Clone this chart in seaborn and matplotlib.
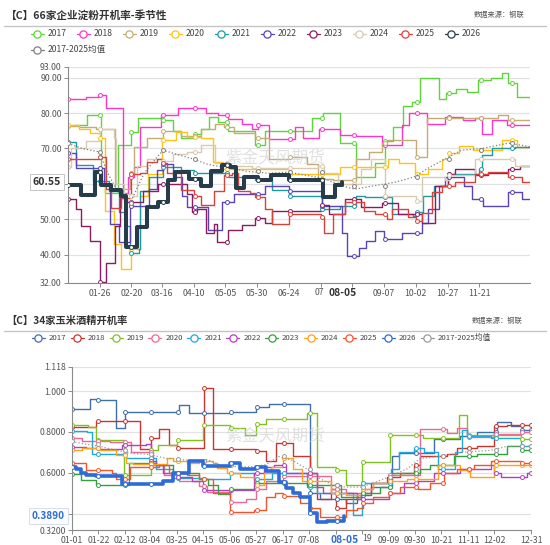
import numpy as np
import pandas as pd
import matplotlib
matplotlib.use("Agg")
import matplotlib.pyplot as plt
import seaborn as sns
from matplotlib.lines import Line2D

# ---------------- TOP CHART: 66家企业淀粉开机率 (day-of-year, value) ----------------
t17_d = [5, 16, 27, 30, 40, 51, 56, 74, 84, 90, 100, 106, 112, 119, 127, 148, 156, 175, 193, 202, 215, 228, 243, 251, 257, 265, 272, 278, 293, 299, 307, 315, 324, 334, 343, 348, 355, 365]
t17_v = [76.5, 79.5, 60, 57.5, 71, 74.7, 78.6, 78, 75, 73, 74, 75.5, 79, 77.5, 75, 71, 75, 74.8, 78.5, 80, 71.5, 62, 66, 72, 76, 82, 83, 89.8, 84, 85.7, 86.7, 86, 89.2, 89.8, 91.4, 88.5, 84.5, 84.5]
t18_d = [1, 15, 25, 31, 44, 48, 53, 58, 74, 88, 100, 110, 119, 127, 138, 146, 151, 159, 180, 186, 199, 215, 228, 248, 264, 270, 284, 298, 312, 322, 327, 335, 347, 365]
t18_v = [84, 84.5, 85.2, 81.5, 57.5, 62, 64.8, 76, 79.4, 81.5, 81.5, 80, 79.5, 78.3, 77, 75.5, 76.5, 72.7, 76, 73, 75.5, 73.8, 73.5, 71, 76.5, 80, 76.8, 78.8, 78, 78.5, 74, 78, 76.5, 76.5]
t19_d = [1, 10, 23, 38, 50, 53, 63, 76, 90, 106, 117, 124, 132, 148, 159, 175, 189, 198, 210, 228, 238, 248, 252, 275, 284, 310, 340, 348, 365]
t19_v = [76.2, 76, 75.5, 58.6, 63, 70.5, 73, 75, 73.5, 75.5, 77, 76, 74.3, 73, 67, 67.5, 65.5, 61.5, 61, 67, 69, 71.4, 72.5, 67.6, 78.6, 78.6, 79.5, 78, 78]
t20_d = [1, 10, 18, 26, 30, 37, 43, 51, 58, 64, 75, 86, 95, 106, 115, 123, 175, 215, 228, 240, 253, 262, 274, 285, 296, 301, 309, 320, 343, 355, 365]
t20_v = [76.5, 75.5, 74.5, 73, 52.4, 43, 35.9, 41.6, 56.7, 62.9, 72.4, 74.6, 73.3, 72.9, 66.2, 64.3, 62.9, 64.8, 64.8, 64.8, 67.1, 66, 62.9, 64.3, 67.1, 68.6, 70.8, 69.6, 72.4, 70.5, 70.5]
t21_d = [1, 7, 21, 33, 41, 47, 50, 57, 58, 65, 76, 90, 100, 127, 148, 162, 175, 185, 201, 215, 228, 235, 250, 256, 273, 275, 281, 289, 300, 325, 327, 335, 353, 365]
t21_v = [71.9, 65.2, 60.7, 58, 52, 48.1, 40.5, 41.5, 58, 62, 64.8, 64, 63, 62, 61, 58.4, 56.5, 56.5, 52.9, 53.8, 56.7, 56.2, 56.2, 51.4, 51, 52, 56.7, 59.5, 62.9, 64.3, 68.1, 70, 70.5, 70]
t22_d = [1, 7, 29, 34, 41, 50, 65, 71, 76, 84, 91, 95, 111, 122, 132, 156, 175, 201, 217, 221, 230, 236, 243, 250, 264, 280, 285, 293, 298, 313, 319, 328, 348, 359, 365]
t22_v = [68.6, 64.5, 60, 48.6, 43.5, 53.8, 58.5, 64, 65.7, 62, 56.7, 53.5, 47.1, 54.8, 57.1, 59.5, 58.1, 53.8, 46.2, 39.5, 41.9, 43.8, 46.7, 44.3, 46.2, 49, 53, 59.5, 61.9, 59.5, 55.7, 53.8, 57.8, 55.7, 55.7]
t23_d = [1, 7, 11, 18, 26, 31, 38, 42, 47, 60, 72, 95, 99, 103, 110, 116, 118, 127, 138, 148, 156, 162, 200, 207, 219, 232, 248, 261, 280, 290, 300, 306, 322, 332, 348, 357, 365]
t23_v = [55.7, 52.9, 48.1, 43.8, 32.4, 37.6, 48, 56, 55, 58, 60, 57, 52, 53, 46, 48.6, 43.5, 47, 48.5, 50.3, 49, 52.4, 54, 51.5, 55.7, 53.5, 54.5, 51.4, 49, 59.5, 62.9, 64.3, 62.4, 63, 64.3, 65, 65]
t24_d = [1, 3, 15, 26, 37, 39, 45, 50, 55, 63, 76, 84, 95, 106, 117, 127, 146, 198, 203, 214, 232, 240, 251, 275, 280, 298, 301, 322, 348, 353, 365]
t24_v = [64.8, 70, 72, 75.5, 73, 60, 57, 56.5, 65, 67, 66.5, 68.5, 69, 71, 66, 65, 64.5, 65, 63, 60, 64.3, 67.1, 56.7, 55.2, 62, 61, 62.5, 67.1, 67.1, 65, 65]
t25_d = [1, 26, 31, 35, 43, 51, 58, 63, 71, 75, 79, 90, 100, 106, 116, 124, 130, 135, 144, 148, 156, 162, 175, 200, 203, 210, 219, 234, 243, 252, 256, 269, 275, 280, 288, 296, 306, 322, 332, 348, 359, 365]
t25_v = [67.1, 67.5, 58.5, 53.3, 56, 62.9, 63, 66.2, 67, 66, 63, 58.4, 56.5, 54.1, 58, 62.5, 63, 58, 57.5, 56.2, 53, 48.8, 51.4, 50.5, 46.2, 51.4, 54.8, 52.4, 51.4, 50, 52.9, 50.5, 49.5, 51.9, 57.6, 59.5, 60.5, 62.9, 63.3, 61.9, 60.5, 60.5]
t26_d = [1, 11, 22, 27, 35, 43, 47, 55, 63, 72, 80, 85, 96, 106, 114, 122, 129, 133, 140, 151, 161, 175, 202, 211, 217]
t26_v = [59.7, 56.8, 63.4, 59.7, 58.3, 56.5, 42.2, 47.9, 53.5, 55, 61, 63.4, 61.4, 59.5, 63.5, 65.2, 64.8, 58.8, 62, 61, 62.5, 61, 56.4, 59.7, 60.55]
tavg_d = [1, 12, 26, 31, 39, 50, 55, 61, 71, 76, 90, 100, 111, 127, 143, 159, 175, 203, 216, 227, 243, 259, 274, 285, 298, 311, 327, 348, 365]
tavg_v = [71.4, 70, 69, 64, 58.5, 54.5, 58.5, 63, 67.5, 69.5, 68, 67, 65.5, 64.5, 63.5, 63, 63.3, 61.5, 59.5, 58.5, 59.5, 60.5, 62, 64.5, 67, 69.5, 70, 71.5, 70.5]

top_xticks = [26, 51, 75, 100, 125, 150, 175, 200, 225, 250, 275, 300, 325]
top_xlabels = ["01-26", "02-20", "03-16", "04-10", "05-05", "05-30", "06-24", "", "", "09-07", "10-02", "10-27", "11-21"]
top_yticks = [32, 40, 50, 60, 70, 80, 90, 93]
top_last = 60.55

# ---------------- BOTTOM CHART: 34家玉米酒精开机率 ----------------
b17_d = [1, 15, 21, 36, 43, 86, 94, 126, 147, 157, 190, 198, 218, 227, 238, 255, 260, 288, 309, 322, 338, 349, 358, 365]
b17_v = [0.91, 0.962, 0.955, 0.82, 0.90, 0.934, 0.893, 0.90, 0.923, 0.938, 0.5, 0.47, 0.45, 0.49, 0.53, 0.68, 0.697, 0.766, 0.78, 0.8, 0.848, 0.83, 0.811, 0.811]
b18_d = [1, 20, 55, 64, 70, 78, 84, 106, 113, 147, 155, 163, 176, 190, 195, 206, 210, 218, 230, 238, 251, 261, 272, 277, 298, 306, 322, 336, 346, 365]
b18_v = [0.823, 0.856, 0.716, 0.77, 0.816, 0.738, 0.72, 1.016, 0.718, 0.705, 0.656, 0.746, 0.68, 0.6, 0.47, 0.52, 0.43, 0.47, 0.5, 0.55, 0.58, 0.6, 0.64, 0.68, 0.69, 0.72, 0.73, 0.831, 0.836, 0.836]
b19_d = [1, 14, 20, 42, 64, 69, 84, 105, 126, 138, 147, 155, 187, 195, 210, 218, 231, 253, 279, 308, 314, 357, 365]
b19_v = [0.836, 0.825, 0.762, 0.59, 0.713, 0.738, 0.762, 0.833, 0.82, 0.787, 0.84, 0.861, 0.893, 0.63, 0.615, 0.541, 0.651, 0.787, 0.77, 0.885, 0.787, 0.766, 0.766]
b20_d = [1, 9, 31, 48, 65, 74, 86, 102, 108, 126, 139, 147, 155, 168, 206, 218, 232, 240, 252, 277, 298, 306, 314, 336, 357, 365]
b20_v = [0.77, 0.755, 0.75, 0.7, 0.64, 0.59, 0.56, 0.535, 0.508, 0.459, 0.47, 0.52, 0.56, 0.582, 0.52, 0.5, 0.52, 0.55, 0.59, 0.815, 0.795, 0.82, 0.775, 0.79, 0.8, 0.8]
b21_d = [1, 13, 17, 36, 44, 68, 81, 105, 126, 145, 160, 187, 195, 224, 231, 254, 260, 272, 280, 291, 305, 310, 314, 333, 357, 365]
b21_v = [0.803, 0.8, 0.693, 0.69, 0.672, 0.62, 0.577, 0.57, 0.6, 0.57, 0.6, 0.53, 0.5, 0.393, 0.55, 0.62, 0.7, 0.72, 0.7, 0.62, 0.7, 0.81, 0.78, 0.77, 0.73, 0.73]
b22_d = [1, 12, 23, 41, 60, 64, 68, 73, 84, 96, 105, 145, 153, 161, 171, 195, 200, 227, 252, 264, 275, 288, 309, 333, 336, 341, 362, 365]
b22_v = [0.725, 0.72, 0.715, 0.738, 0.74, 0.66, 0.64, 0.6, 0.58, 0.56, 0.516, 0.6, 0.63, 0.64, 0.6, 0.53, 0.5, 0.47, 0.5, 0.55, 0.56, 0.6, 0.62, 0.64, 0.6, 0.58, 0.6, 0.6]
b23_d = [1, 8, 20, 46, 63, 68, 81, 102, 109, 117, 126, 137, 147, 155, 187, 203, 214, 232, 245, 254, 277, 285, 304, 322, 346, 357, 365]
b23_v = [0.595, 0.566, 0.541, 0.647, 0.65, 0.64, 0.6, 0.57, 0.541, 0.497, 0.52, 0.52, 0.55, 0.552, 0.541, 0.54, 0.484, 0.5, 0.53, 0.6, 0.62, 0.64, 0.68, 0.69, 0.73, 0.713, 0.713]
b24_d = [1, 9, 23, 36, 44, 49, 76, 81, 92, 102, 113, 116, 124, 134, 146, 153, 159, 168, 176, 183, 206, 218, 232, 240, 252, 267, 291, 309, 317, 336, 365]
b24_v = [0.713, 0.72, 0.71, 0.689, 0.65, 0.645, 0.672, 0.66, 0.65, 0.66, 0.65, 0.623, 0.6, 0.58, 0.541, 0.6, 0.63, 0.672, 0.62, 0.562, 0.5, 0.49, 0.52, 0.55, 0.56, 0.57, 0.64, 0.615, 0.579, 0.64, 0.64]
b25_d = [1, 12, 33, 36, 47, 70, 78, 92, 102, 113, 126, 145, 155, 162, 168, 182, 190, 198, 218, 227, 232, 240, 252, 261, 275, 285, 296, 306, 320, 333, 357, 365]
b25_v = [0.647, 0.615, 0.6, 0.57, 0.63, 0.64, 0.6, 0.59, 0.57, 0.5, 0.41, 0.42, 0.48, 0.5, 0.487, 0.451, 0.43, 0.385, 0.42, 0.43, 0.45, 0.48, 0.5, 0.53, 0.52, 0.55, 0.6, 0.62, 0.64, 0.66, 0.65, 0.65]
b26_d = [1, 4, 8, 12, 20, 41, 60, 73, 81, 94, 105, 116, 126, 134, 147, 155, 165, 171, 176, 182, 190, 195, 203, 210, 217]
b26_v = [0.63, 0.62, 0.6, 0.59, 0.585, 0.545, 0.545, 0.56, 0.598, 0.66, 0.631, 0.635, 0.65, 0.62, 0.63, 0.61, 0.557, 0.525, 0.5, 0.48, 0.402, 0.361, 0.365, 0.365, 0.389]
bavg_d = [1, 12, 23, 36, 49, 62, 76, 86, 97, 108, 118, 129, 145, 155, 165, 176, 187, 198, 208, 218, 230, 240, 252, 267, 277, 293, 309, 333, 346, 365]
bavg_v = [0.754, 0.74, 0.73, 0.71, 0.695, 0.69, 0.67, 0.665, 0.66, 0.665, 0.64, 0.63, 0.63, 0.64, 0.68, 0.66, 0.62, 0.57, 0.54, 0.53, 0.53, 0.55, 0.58, 0.62, 0.67, 0.68, 0.7, 0.71, 0.73, 0.73]

bot_xticks = [1, 22, 43, 63, 84, 105, 126, 147, 168, 189, 210, 231, 252, 273, 294, 315, 336, 365]
bot_xlabels = ["01-01", "01-22", "02-12", "03-04", "03-25", "04-15", "05-06", "05-27", "06-17", "07-08", "", "", "09-09", "09-30", "10-21", "11-11", "12-02", "12-31"]
bot_yticks = [0.32, 0.4, 0.6, 0.8, 1.0, 1.118]
bot_ylabels = ["0.3200", "", "0.6000", "0.8000", "1.000", "1.118"]
bot_last = 0.389

legend_labels = ["2017", "2018", "2019", "2020", "2021", "2022", "2023", "2024", "2025", "2026", "2017-2025均值"]
top_colors = ["#5fd53c", "#ff35c8", "#c5ab74", "#ffc215", "#1c9aa0", "#5a43b8", "#8c1c62", "#d9cab2", "#d9423c", "#263c4a", "#808080"]
bot_colors = ["#3f6faa", "#c9352f", "#80c31e", "#ea6a93", "#1fa7df", "#b13fc0", "#2fa33a", "#ffa11e", "#f2552c", "#2d6bd8", "#9a9a9a"]

# ---------------- figure ----------------
sns.set_style("white")
plt.rcParams["font.family"] = ["Noto Sans CJK SC", "DejaVu Sans"]
plt.rcParams["axes.unicode_minus"] = False

W, H = 550, 545
fig = plt.figure(figsize=(5.5, 5.45), dpi=100)


def fx(px):
    return px / W


def fy(py):
    return 1 - py / H


ax1 = fig.add_axes([fx(68), fy(283), (530 - 68) / W, (283 - 67) / H])
ax2 = fig.add_axes([fx(72), fy(530), (531 - 72) / W, (530 - 367) / H])


def draw(ax, d, v, color, lw, mdays, ls="-", steps=True, z=2, ms=8):
    df = pd.DataFrame({"day": d, "val": v})
    kw = dict(drawstyle="steps-post") if steps else {}
    sns.lineplot(data=df, x="day", y="val", ax=ax, color=color, linewidth=lw,
                 linestyle=ls, errorbar=None, estimator=None, legend=False,
                 zorder=z, **kw)
    md = [t for t in mdays if d[0] <= t <= d[-1]]
    idx = np.searchsorted(np.array(d), md, side="right") - 1
    mv = np.array(v)[idx]
    sns.scatterplot(x=md, y=mv, ax=ax, s=ms, color="white", edgecolor=color,
                    linewidth=0.7, zorder=z + 0.1, legend=False)


top_series = [(t17_d, t17_v), (t18_d, t18_v), (t19_d, t19_v), (t20_d, t20_v), (t21_d, t21_v),
              (t22_d, t22_v), (t23_d, t23_v), (t24_d, t24_v), (t25_d, t25_v)]
bot_series = [(b17_d, b17_v), (b18_d, b18_v), (b19_d, b19_v), (b20_d, b20_v), (b21_d, b21_v),
              (b22_d, b22_v), (b23_d, b23_v), (b24_d, b24_v), (b25_d, b25_v)]

top_mdays = list(range(1, 366, 25))
bot_mdays = list(range(1, 366, 21)) + [365]

for (d, v), c in zip(top_series, top_colors[:9]):
    draw(ax1, d, v, c, 1.0, top_mdays)
draw(ax1, tavg_d, tavg_v, top_colors[10], 0.9, top_mdays, ls=":", steps=False, z=2.5)
draw(ax1, t26_d, t26_v, top_colors[9], 2.9, top_mdays, z=3)

for (d, v), c in zip(bot_series, bot_colors[:9]):
    draw(ax2, d, v, c, 1.0, bot_mdays)
draw(ax2, bavg_d, bavg_v, bot_colors[10], 0.9, bot_mdays, ls=":", steps=False, z=2.5)
draw(ax2, b26_d, b26_v, bot_colors[9], 2.6, bot_mdays, z=3)

# axes styling
for ax in (ax1, ax2):
    ax.set_xlabel("")
    ax.set_ylabel("")
    ax.set_xlim(1, 365)
    for s in ("top", "right"):
        ax.spines[s].set_visible(False)
    for s in ("left", "bottom"):
        ax.spines[s].set_color("#8a8a8a")
        ax.spines[s].set_linewidth(0.8)
    ax.yaxis.grid(True, color="#e2e2e2", linewidth=0.9)
    ax.xaxis.grid(False)
    ax.set_axisbelow(True)
    ax.tick_params(axis="both", labelsize=6.3, labelcolor="#555555", color="#8a8a8a",
                   length=3, width=0.7, pad=1.5, left=True, bottom=True)

ax1.set_ylim(32, 93)
ax1.set_yticks(top_yticks)
ax1.set_yticklabels(["" if t == 60 else f"{t:.2f}" for t in top_yticks])
ax1.set_xticks(top_xticks)
ax1.set_xticklabels(top_xlabels)

ax2.set_ylim(0.32, 1.118)
ax2.set_yticks(bot_yticks)
ax2.set_yticklabels(bot_ylabels)
ax2.set_xticks(bot_xticks)
ax2.set_xticklabels(bot_xlabels)

# partly hidden tick labels (visible fragments beside the highlight boxes)
ax1.text(199, -0.042, "07", transform=ax1.get_xaxis_transform(), ha="center", va="center",
         fontsize=6.3, color="#555555", clip_on=False)
ax2.text(235, -0.055, "19", transform=ax2.get_xaxis_transform(), ha="center", va="center",
         fontsize=6.3, color="#555555", clip_on=False)

# highlighted labels
ax1.text(-0.015, top_last, f"{top_last:.2f}", transform=ax1.get_yaxis_transform(),
         ha="right", va="center", fontsize=7.6, fontweight="bold", color="#333333",
         bbox=dict(boxstyle="square,pad=0.3", fc="white", ec="#bbbbbb", lw=0.6),
         zorder=20, clip_on=False)
ax1.text(217, -0.045, "08-05", transform=ax1.get_xaxis_transform(), ha="center", va="center",
         fontsize=7.4, fontweight="bold", color="#333333", zorder=20, clip_on=False)
ax2.text(-0.015, bot_last, f"{bot_last:.4f}", transform=ax2.get_yaxis_transform(),
         ha="right", va="center", fontsize=7.2, fontweight="bold", color="#2d6bd8",
         bbox=dict(boxstyle="square,pad=0.3", fc="#fafcff", ec="#d0d8e8", lw=0.6),
         zorder=20, clip_on=False)
ax2.text(217, -0.06, "08-05", transform=ax2.get_xaxis_transform(), ha="center", va="center",
         fontsize=7.4, fontweight="bold", color="#2d6bd8", zorder=20, clip_on=False)

# watermarks
fig.text(fx(275), fy(158), "紫金天风期货", fontsize=12, color="#d4d4d4", alpha=0.7,
         ha="center", va="center", zorder=0)
fig.text(fx(275), fy(436), "紫金天风期货", fontsize=12, color="#d4d4d4", alpha=0.7,
         ha="center", va="center", zorder=0)

# titles / headers
fig.text(fx(6), fy(15), "【C】66家企业淀粉开机率-季节性", fontsize=7.7, fontweight="bold",
         color="#333333", va="center", ha="left")
fig.text(fx(524), fy(15), "数据来源：钢联", fontsize=5.2, color="#555555", va="center", ha="right")
fig.add_artist(Line2D([fx(4), fx(546)], [fy(26), fy(26)], color="#c4c4c4", lw=1,
                      transform=fig.transFigure))
fig.text(fx(6), fy(321), "【C】34家玉米酒精开机率", fontsize=7.4, fontweight="bold",
         color="#333333", va="center", ha="left")
fig.text(fx(522), fy(321), "数据来源：钢联", fontsize=5.2, color="#555555", va="center", ha="right")
fig.add_artist(Line2D([fx(4), fx(546)], [fy(331), fy(331)], color="#c4c4c4", lw=1,
                      transform=fig.transFigure))


def legend_entry(x, y, color, label, fs):
    fig.add_artist(Line2D([fx(x), fx(x + 13)], [fy(y), fy(y)], color=color, lw=0.9,
                          transform=fig.transFigure))
    fig.add_artist(Line2D([fx(x + 6.5)], [fy(y)], marker="o", ms=5.2, mfc="white",
                          mec=color, mew=0.9, lw=0, transform=fig.transFigure))
    fig.text(fx(x + 17), fy(y), label, fontsize=fs, color="#444444", va="center", ha="left")


for i in range(10):
    legend_entry(30.7 + 46 * i, 33.5, top_colors[i], legend_labels[i], 6.2)
legend_entry(30.7, 49.5, top_colors[10], legend_labels[10], 6.2)

for i in range(11):
    legend_entry(31.7 + 38.9 * i, 337.5, bot_colors[i], legend_labels[i], 5.6)

fig.savefig("out.png", dpi=100, facecolor="white")
